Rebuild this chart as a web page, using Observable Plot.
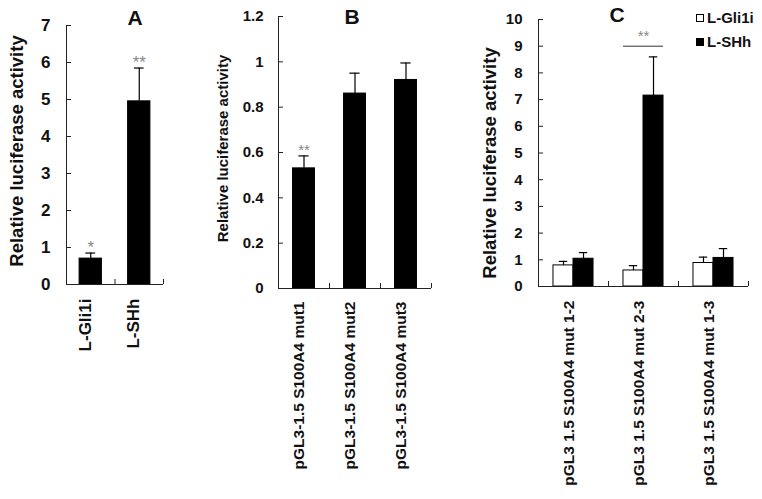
<!DOCTYPE html>
<html><head><meta charset="utf-8">
<script src="https://cdn.jsdelivr.net/npm/d3@7"></script>
<script src="https://cdn.jsdelivr.net/npm/@observablehq/plot@0.6"></script>
<style>
body{margin:0;background:#fff;}
#wrap{position:relative;width:762px;height:499px;font-family:"Liberation Sans",Arial,sans-serif;font-weight:bold;color:#111;}
#wrap svg{position:absolute;left:0;top:0;}
.ptitle{position:absolute;font-size:21px;font-weight:bold;transform:translateX(-50%);line-height:1;}
.leg{position:absolute;left:696px;font-size:15px;line-height:1;display:flex;align-items:center;}
.sw{width:8px;height:8px;border:1px solid #000;margin-right:3px;box-sizing:border-box;}
</style></head><body><div id="wrap"></div>
<script>
// Panel A
const catsA = ["L-Gli1i", "L-SHh"];
const valsA = [0.7, 4.95];
const errA = [0.15, 0.9];
const sigA = ["*", "**"];
const ticksA = [0, 1, 2, 3, 4, 5, 6, 7];

// Panel B
const catsB = ["pGL3-1.5 S100A4 mut1", "pGL3-1.5 S100A4 mut2", "pGL3-1.5 S100A4 mut3"];
const valsB = [0.53, 0.86, 0.92];
const errB = [0.055, 0.09, 0.075];
const sigB = ["**", "", ""];
const ticksB = [0, 0.2, 0.4, 0.6, 0.8, 1, 1.2];

// Panel C
const catsC = ["pGL3 1.5 S100A4 mut 1-2", "pGL3 1.5 S100A4 mut 2-3", "pGL3 1.5 S100A4 mut 1-3"];
const seriesC = ["L-Gli1i", "L-SHh"];
const gli1iC = [0.79, 0.6, 0.88];
const gli1iErrC = [0.15, 0.18, 0.22];
const shhC = [1.04, 7.15, 1.07];
const shhErrC = [0.23, 1.45, 0.35];
const sigC = [{group: 1, level: 9, label: "**"}];
const ticksC = [0, 1, 2, 3, 4, 5, 6, 7, 8, 9, 10];

const yTitle = "Relative luciferase activity";
const W = 762, H = 499;
const FONT = '"Liberation Sans", Arial, sans-serif';
const wrap = document.getElementById("wrap");

function panel(o) {
  const fw = W - o.ml - o.mr, fh = H - o.mt - o.mb;
  const marks = [
    Plot.rectY(o.rows, {x1: "x1", x2: "x2", y: "v", fill: "fill", stroke: "#000", strokeWidth: 1}),
    Plot.ruleX(o.rows, {x: "xc", y1: "v", y2: d => d.v + d.e, stroke: "#000", strokeWidth: 1.2}),
    Plot.ruleY(o.rows, {y: d => d.v + d.e, x1: d => d.xc - o.cap, x2: d => d.xc + o.cap, stroke: "#000", strokeWidth: 1.2}),
    Plot.text(o.rows.filter(d => d.sig), {x: "xc", y: d => d.v + d.e, text: "sig", dy: o.starDy, fill: "#888", fontSize: o.starSize, fontWeight: "normal"}),
    Plot.ruleX([0], {stroke: "#222"}),
    Plot.ruleY([0], {stroke: "#222"}),
    Plot.tickY(o.ticks, {y: d => d, insetRight: fw - 5, stroke: "#222"}),
    Plot.tickX(d3.range(o.n + 1), {x: d => d, insetTop: fh - 5, stroke: "#222"}),
    Plot.axisY(o.ticks, {tickSize: 0, tickPadding: o.pad, tickFormat: d => String(d), fontSize: o.tickFont, fontWeight: "bold", label: null, fill: "#111"}),
    Plot.text(o.cats, {x: (d, i) => i + 0.5, frameAnchor: "bottom", rotate: -90, textAnchor: "end", dy: o.labDy, fontSize: o.labFont, fontWeight: "bold", fill: "#111"}),
    Plot.text([yTitle], {frameAnchor: "left", textAnchor: "middle", rotate: -90, dx: o.titleDx, dy: o.titleDy, fontSize: o.titleFont, fontWeight: "bold", fill: "#111"})
  ];
  if (o.extra) marks.push(...o.extra);
  const svg = Plot.plot({
    width: W, height: H,
    marginLeft: o.ml, marginRight: o.mr, marginTop: o.mt, marginBottom: o.mb,
    style: {background: "transparent", fontFamily: FONT, overflow: "visible"},
    x: {domain: [0, o.n], axis: null},
    y: {domain: [0, o.ymax]},
    marks
  });
  wrap.appendChild(svg);
}

// A
panel({
  rows: catsA.map((c, i) => ({xc: i + 0.5, x1: i + 0.5 - 0.23, x2: i + 0.5 + 0.23, v: valsA[i], e: errA[i], fill: "#000", sig: sigA[i]})),
  cats: catsA, n: 2, ymax: 7, ticks: ticksA,
  ml: 66, mr: W - 163, mt: 25, mb: H - 284,
  cap: 0.1, starDy: -6, starSize: 17, pad: 16, tickFont: 17,
  labDy: 14, labFont: 17, titleDx: -49, titleDy: -4, titleFont: 18.5
});

// B
panel({
  rows: catsB.map((c, i) => ({xc: i + 0.5, x1: i + 0.5 - 0.215, x2: i + 0.5 + 0.215, v: valsB[i], e: errB[i], fill: "#000", sig: sigB[i]})),
  cats: catsB, n: 3, ymax: 1.2, ticks: ticksB,
  ml: 278, mr: W - 431, mt: 16, mb: H - 288,
  cap: 0.1, starDy: -6, starSize: 15, pad: 15, tickFont: 15,
  labDy: 13, labFont: 15.5, titleDx: -55, titleDy: -4, titleFont: 15
});

// C
const bw = 0.286;
const rowsC = [];
catsC.forEach((c, i) => {
  rowsC.push({xc: i + 0.5 - bw / 2, x1: i + 0.5 - bw, x2: i + 0.5, v: gli1iC[i], e: gli1iErrC[i], fill: "#fff", sig: ""});
  rowsC.push({xc: i + 0.5 + bw / 2, x1: i + 0.5, x2: i + 0.5 + bw, v: shhC[i], e: shhErrC[i], fill: "#000", sig: ""});
});
panel({
  rows: rowsC, cats: catsC, n: 3, ymax: 10, ticks: ticksC,
  ml: 538, mr: W - 748, mt: 19, mb: H - 286,
  cap: 0.06, starDy: -6, starSize: 15, pad: 16, tickFont: 15,
  labDy: 14, labFont: 15.5, titleDx: -48, titleDy: 10, titleFont: 18.5,
  extra: [
    Plot.ruleY(sigC, {y: "level", x1: d => d.group + 0.5 - bw, x2: d => d.group + 0.5 + bw, stroke: "#333"}),
    Plot.text(sigC, {x: d => d.group + 0.5, y: "level", text: "label", dy: -10, fill: "#888", fontSize: 15, fontWeight: "normal"})
  ]
});

// Panel titles
[["A", 135, 7], ["B", 352, 6], ["C", 617, 4]].forEach(([t, x, y]) => {
  const d = document.createElement("div");
  d.className = "ptitle"; d.textContent = t;
  d.style.left = x + "px"; d.style.top = y + "px";
  wrap.appendChild(d);
});

// Legend for C
const legFills = ["#fff", "#000"];
seriesC.forEach((s, i) => {
  const d = document.createElement("div");
  d.className = "leg";
  d.style.top = (10 + i * 24) + "px";
  const sw = document.createElement("span");
  sw.className = "sw"; sw.style.background = legFills[i];
  d.appendChild(sw);
  d.appendChild(document.createTextNode(s));
  wrap.appendChild(d);
});
</script></body></html>
